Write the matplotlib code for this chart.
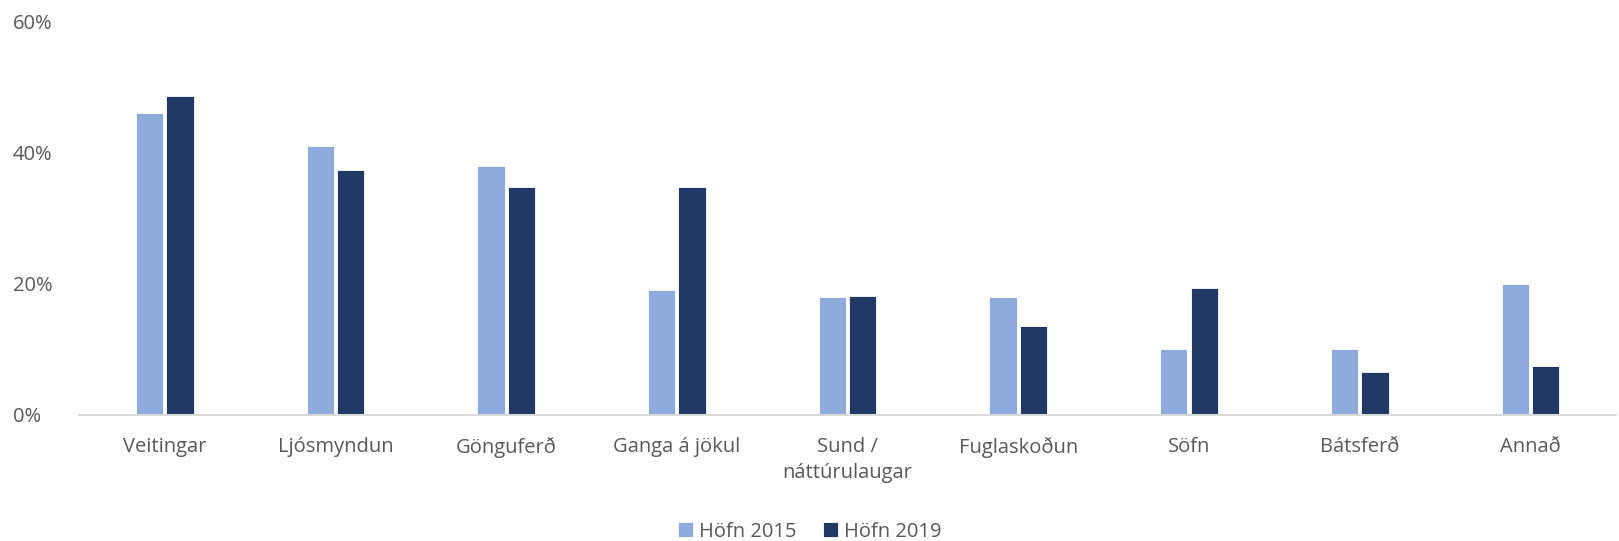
import numpy as np
import matplotlib.pyplot as plt
from matplotlib.ticker import FuncFormatter

# categories and values (percent)
categories = ['Veitingar', 'Ljósmyndun', 'Gönguferð', 'Ganga á jökul',
              'Sund /\nnáttúrulaugar', 'Fuglaskoðun', 'Söfn', 'Bátsferð', 'Annað']
hofn_2015 = [46.1, 41.0, 38.0, 19.0, 18.0, 18.0, 10.0, 10.0, 20.0]
hofn_2019 = [48.7, 37.4, 34.8, 34.8, 18.1, 13.5, 19.3, 6.5, 7.4]
series_names = ['Höfn 2015', 'Höfn 2019']

plt.rcParams['font.family'] = ['Open Sans', 'DejaVu Sans']
text_color = '#595959'

fig = plt.figure(figsize=(16.19, 5.41), dpi=100)
ax = fig.add_axes([0.049, 0.233, 0.949, 0.727])

x = np.arange(len(categories))
w = 0.16
ax.bar(x - w / 2 - 0.009, hofn_2015, w, color='#8FAADC', edgecolor='white',
       linewidth=0.6, label=series_names[0])
ax.bar(x + w / 2 + 0.009, hofn_2019, w, color='#203864', edgecolor='white',
       linewidth=0.6, label=series_names[1])

ax.set_xlim(-0.5, len(categories) - 0.5)
ax.set_ylim(0, 60)
ax.set_yticks([0, 20, 40, 60])
ax.yaxis.set_major_formatter(FuncFormatter(lambda v, p: f'{v:.0f}%'))
ax.set_xticks(x)
ax.set_xticklabels(categories, linespacing=1.4)

for s in ['top', 'right', 'left']:
    ax.spines[s].set_visible(False)
ax.spines['bottom'].set_color('#D9D9D9')
ax.spines['bottom'].set_linewidth(1.5)
ax.tick_params(axis='both', length=0, labelsize=14.5, colors=text_color)
ax.tick_params(axis='x', pad=16)
ax.tick_params(axis='y', pad=48)
for lbl in ax.get_yticklabels():
    lbl.set_horizontalalignment('left')

leg = fig.legend(loc='lower center', bbox_to_anchor=(0.5, -0.035), ncol=2,
                 frameon=False, fontsize=14.5, handlelength=0.75, handleheight=0.75,
                 handletextpad=0.3, columnspacing=1.3)
for t in leg.get_texts():
    t.set_color(text_color)

fig.savefig('out.png', dpi=100)
